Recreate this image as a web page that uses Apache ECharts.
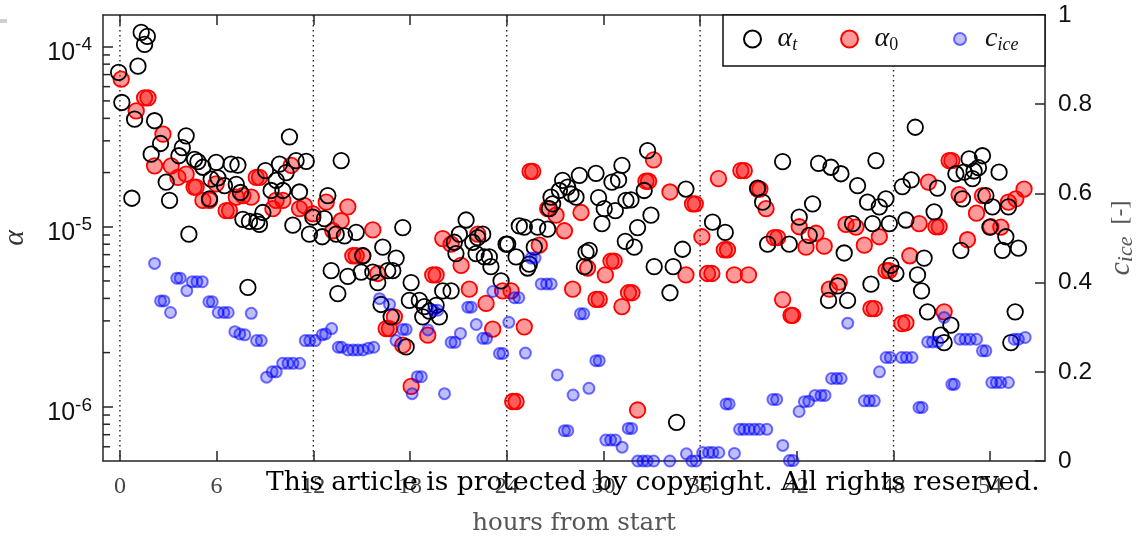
<!DOCTYPE html>
<html><head><meta charset="utf-8">
<script src="https://cdn.jsdelivr.net/npm/echarts@6/dist/echarts.min.js"></script>
<style>html,body{margin:0;padding:0;background:#fff}#c{width:1136px;height:538px}</style>
</head><body><div id="c"></div>
<script>
// ---- data ----
const hoursT = [-0.08,0.12,0.74,0.91,1.12,1.32,1.53,1.70,1.94,2.15,2.52,2.87,3.08,3.66,3.87,4.11,4.28,4.63,4.84,5.15,5.56,5.66,5.97,6.08,6.49,6.90,7.22,7.32,7.48,7.63,7.94,8.04,8.50,8.66,8.87,9.03,9.38,9.70,9.90,10.11,10.31,10.52,10.73,10.93,11.14,11.56,11.76,11.97,12.55,12.69,12.90,13.11,13.42,13.52,13.73,13.93,14.14,14.66,14.97,15.07,15.69,16.00,16.20,16.31,16.62,16.83,16.93,17.14,17.55,17.76,17.96,18.07,18.58,18.79,18.89,19.20,19.62,19.82,20.03,20.55,20.75,20.85,21.06,21.48,21.89,22.10,22.20,22.51,22.61,22.92,23.02,23.65,23.96,24.06,24.58,24.78,25.09,25.30,25.40,25.71,25.92,26.54,26.65,26.75,26.85,27.27,27.47,27.78,27.99,28.30,28.51,28.82,28.92,29.12,29.54,29.70,29.91,30.05,30.53,30.74,30.94,31.15,31.36,31.40,31.71,31.91,32.12,32.53,32.74,32.95,33.15,34.13,34.33,34.54,34.91,35.12,36.77,37.56,39.57,39.88,40.19,41.12,41.53,42.15,42.77,42.98,43.35,43.97,44.12,44.53,44.74,44.94,45.15,45.46,45.77,46.39,46.60,46.70,46.91,47.12,47.53,47.74,47.84,48.15,48.55,48.77,49.10,49.35,49.49,49.74,49.90,50.11,50.52,50.73,50.94,51.14,51.56,51.87,52.18,52.28,52.38,52.69,52.90,53.00,53.27,53.52,53.73,53.98,54.14,54.55,54.76,54.97,55.13,55.28,55.55,55.75];
const alphaT = [7.2e-5,4.9e-5,1.44e-5,3.96e-5,7.8e-5,1.2e-4,1.03e-4,1.14e-4,2.53e-5,3.88e-5,
2.9e-5,1.77e-5,1.4e-5,2.48e-5,2.75e-5,3.2e-5,9.1e-6,2.37e-5,2.3e-5,2.14e-5,
1.43e-5,1.84e-5,2.28e-5,1.87e-5,1.69e-5,2.23e-5,1.72e-5,2.2e-5,1.55e-5,1.1e-5,
4.6e-6,1.07e-5,1.07e-5,1.03e-5,1.2e-5,2.05e-5,1.59e-5,1.81e-5,2.23e-5,1.59e-5,
2.0e-5,3.16e-5,1.02e-5,2.33e-5,1.56e-5,2.31e-5,9.1e-6,1.13e-5,8.8e-6,1.11e-5,
1.49e-5,5.7e-6,9.1e-6,4.25e-6,2.33e-5,8.9e-6,5.3e-6,9.3e-6,5.6e-6,6.9e-6,
5.6e-6,4.9e-6,3.7e-6,7.7e-6,5.7e-6,3.16e-6,5.7e-6,6.7e-6,9.9e-6,2.15e-6,
3.9e-6,4.9e-6,3.9e-6,3.16e-6,3.6e-6,3.4e-6,3.66e-6,3.16e-6,4.4e-6,4.4e-6,
8.2e-6,7.1e-6,9.1e-6,1.09e-5,8.2e-6,7.1e-6,8.7e-6,9.1e-6,6.8e-6,6.8e-6,
6.0e-6,5.0e-6,8.0e-6,8.0e-6,6.8e-6,1.01e-5,9.96e-6,5.9e-6,6.2e-6,7.7e-6,
9.96e-6,9.7e-6,1.26e-5,1.46e-5,1.34e-5,1.59e-5,1.81e-5,1.66e-5,1.52e-5,1.46e-5,
1.93e-5,6.0e-6,7.2e-6,7.4e-6,1.98e-5,1.45e-5,1.04e-5,1.26e-5,1.77e-5,1.23e-5,
1.82e-5,2.19e-5,8.3e-6,1.4e-5,1.41e-5,7.7e-6,9.9e-6,1.59e-5,2.65e-5,1.16e-5,
6.0e-6,4.3e-6,6.0e-6,8.2e-7,7.5e-6,1.62e-5,1.06e-5,9.3e-6,1.64e-5,1.37e-5,
8.0e-6,2.3e-5,8.0e-6,1.13e-5,8.96e-6,1.34e-5,2.25e-5,3.9e-6,2.14e-5,4.7e-6,
1.97e-5,7.15e-6,3.9e-6,1.04e-5,1.69e-5,1.37e-5,4.8e-6,1.04e-5,2.33e-5,1.29e-5,
1.43e-5,1.04e-5,6.1e-6,5.5e-6,1.67e-5,1.09e-5,1.82e-5,3.57e-5,5.4e-6,4.4e-6,
6.7e-6,3.37e-6,1.21e-5,1.64e-5,2.5e-6,2.27e-6,2.84e-6,1.97e-5,7.4e-6,1.43e-5,
2.01e-5,2.38e-5,1.85e-5,2.04e-5,2.13e-5,2.48e-5,1.49e-5,9.96e-6,1.29e-5,2.01e-5,
7.4e-6,8.8e-6,1.29e-5,2.27e-6,3.37e-6,7.6e-6];

const hours0 = [0.08,1.01,1.53,1.74,2.15,2.67,3.18,3.60,4.11,4.60,4.73,5.15,5.56,5.97,6.59,6.80,7.22,7.63,8.15,8.46,8.66,9.49,9.69,10.11,10.63,11.14,11.45,11.97,12.80,13.21,13.73,14.14,14.45,14.66,15.07,15.69,16.00,16.52,16.72,17.03,17.55,18.07,19.10,19.41,19.62,20.03,20.55,21.17,21.68,22.20,22.72,23.13,23.75,24.27,24.37,24.58,25.09,25.45,25.61,26.02,26.54,27.06,27.58,28.09,28.61,29.02,29.54,29.74,30.12,30.47,30.67,31.15,31.56,31.77,32.12,32.64,32.80,33.11,34.13,35.12,35.53,35.70,36.11,36.46,36.73,37.14,37.50,37.70,38.12,38.53,38.74,39.00,39.57,39.71,40.09,40.60,40.81,41.12,41.64,41.74,42.15,42.57,43.19,43.70,44.02,44.63,45.05,45.67,46.19,46.60,46.81,47.12,47.53,47.74,48.52,48.77,49.01,49.59,50.17,50.63,50.83,51.14,51.45,51.62,52.07,52.59,53.15,53.52,54.04,54.66,55.13,55.59,56.10];
const alpha0 = [6.6e-5,4.4e-5,5.2e-5,5.2e-5,2.18e-5,3.27e-5,2.18e-5,1.88e-5,1.96e-5,1.66e-5,
1.66e-5,1.4e-5,1.4e-5,1.73e-5,1.23e-5,1.23e-5,1.46e-5,1.49e-5,1.46e-5,1.88e-5,
1.88e-5,1.26e-5,1.4e-5,1.4e-5,2.19e-5,1.26e-5,1.31e-5,1.18e-5,1.37e-5,9.5e-6,
1.08e-5,1.29e-5,6.9e-6,6.9e-6,6.9e-6,9.6e-6,5.5e-6,2.72e-6,2.72e-6,3.16e-6,
2.2e-6,1.3e-6,2.5e-6,5.4e-6,5.4e-6,8.6e-6,8.0e-6,6.1e-6,4.5e-6,9.1e-6,
3.75e-6,2.7e-6,4.4e-6,4.4e-6,1.07e-6,1.07e-6,2.78e-6,2.03e-5,2.03e-5,7.9e-6,
1.26e-5,1.16e-5,9.5e-6,4.5e-6,1.2e-5,5.9e-6,3.95e-6,3.95e-6,5.4e-6,6.45e-6,
6.45e-6,3.6e-6,4.3e-6,4.3e-6,9.6e-7,1.79e-5,1.79e-5,2.35e-5,1.56e-5,5.4e-6,
1.34e-5,1.34e-5,8.8e-6,5.5e-6,5.5e-6,1.85e-5,7.45e-6,7.45e-6,5.4e-6,2.05e-5,
2.05e-5,5.4e-6,1.62e-5,1.62e-5,1.26e-5,8.7e-6,8.7e-6,3.94e-6,3.22e-6,3.22e-6,
1.0e-5,7.7e-6,9.2e-6,7.8e-6,4.5e-6,4.93e-6,1.03e-5,9.96e-6,7.9e-6,3.51e-6,
3.51e-6,8.8e-6,5.7e-6,5.7e-6,2.9e-6,2.93e-6,6.9e-6,1.04e-5,1.77e-5,1.0e-5,
1.0e-5,3.37e-6,2.33e-5,2.33e-5,1.51e-5,8.47e-6,1.19e-5,1.49e-5,1.0e-5,9.96e-6,
1.37e-5,1.43e-5,1.62e-5];

const hoursIce = [2.15,2.52,2.73,3.14,3.53,3.74,4.15,4.49,4.78,5.11,5.52,5.73,6.10,6.45,6.72,7.13,7.44,7.75,8.15,8.48,8.77,9.10,9.45,9.70,10.10,10.43,10.74,11.15,11.50,11.78,12.12,12.55,12.76,13.14,13.55,13.75,14.15,14.47,14.76,15.08,15.42,15.75,16.11,16.73,17.13,17.55,17.76,18.13,18.45,18.70,19.11,19.45,19.72,20.14,20.55,20.79,21.13,21.59,21.80,22.11,22.52,22.75,23.14,23.55,23.76,24.13,24.48,24.75,25.16,25.51,25.76,26.14,26.47,26.76,27.14,27.58,27.79,28.12,28.57,28.78,29.10,29.53,29.74,30.15,30.45,30.74,31.16,31.54,31.75,32.13,32.45,32.72,33.12,34.12,35.15,35.49,35.75,36.16,36.53,36.79,37.16,37.61,37.80,38.13,38.45,38.72,39.05,39.37,39.68,40.14,40.52,40.75,41.13,41.54,41.77,42.14,42.47,42.74,43.13,43.50,43.75,44.16,44.47,44.75,45.16,46.19,46.50,46.81,47.13,47.54,47.80,48.50,48.80,49.15,49.58,49.77,50.12,50.42,50.75,51.14,51.62,51.77,52.12,52.45,52.76,53.15,53.52,53.73,54.10,54.38,54.66,55.13,55.49,55.75,56.17];
const cIce = [0.443,0.359,0.359,0.333,0.41,0.41,0.382,0.402,0.402,0.402,
0.357,0.357,0.333,0.333,0.333,0.29,0.285,0.283,0.331,0.27,
0.27,0.188,0.2,0.2,0.219,0.219,0.219,0.219,0.27,0.27,
0.27,0.283,0.285,0.297,0.255,0.255,0.249,0.249,0.249,0.249,
0.253,0.255,0.364,0.351,0.27,0.295,0.295,0.151,0.189,0.189,
0.294,0.338,0.338,0.151,0.266,0.266,0.286,0.345,0.345,0.306,
0.275,0.275,0.38,0.241,0.241,0.311,0.366,0.366,0.242,0.455,
0.455,0.397,0.397,0.397,0.193,0.068,0.068,0.148,0.33,0.33,
0.163,0.225,0.225,0.047,0.047,0.047,0.031,0.073,0.073,0,
0,0,0,0,0.016,0,0,0.019,0.019,0.019,
0.019,0.128,0.128,0.017,0.071,0.071,0.071,0.071,0.071,0.071,
0.138,0.138,0.035,0.001,0.001,0.111,0.133,0.134,0.147,0.147,
0.147,0.185,0.185,0.185,0.309,0.135,0.135,0.135,0.2,0.232,
0.232,0.232,0.232,0.232,0.12,0.12,0.267,0.267,0.267,0.322,
0.172,0.172,0.273,0.273,0.273,0.273,0.247,0.247,0.176,0.176,
0.176,0.176,0.273,0.273,0.277];

// ---- axes / ticks ----
const xTickValues = [0,6,12,18,24,30,36,42,48,54];
const dayLines = [0,12,24,36,48];
const alphaMinorTicks = [6e-7,7e-7,8e-7,9e-7,2e-6,3e-6,4e-6,5e-6,6e-6,7e-6,8e-6,9e-6,2e-5,3e-5,4e-5,5e-5,6e-5,7e-5,8e-5,9e-5];
const X_MIN = -1.05, X_MAX = 57.4;
const A_MIN = 5e-7, A_MAX = 1.5e-4;
const C_MIN = 0, C_MAX = 1, C_STEP = 0.2;

const frame = '#262626';
const zip = (xs, ys) => xs.map((x, i) => [x, ys[i]]);

const legendRich = {
  m: {fontFamily: 'Liberation Serif', fontStyle: 'italic', fontSize: 28, lineHeight: 30, color: '#111'},
  s: {fontFamily: 'Liberation Serif', fontStyle: 'italic', fontSize: 18, lineHeight: 14, verticalAlign: 'bottom', color: '#111'},
  d: {fontFamily: 'Liberation Serif', fontSize: 18, lineHeight: 14, verticalAlign: 'bottom', color: '#111'}
};
function legendCfg(name, left, h, txt) {
  return {
    data: [name], left: left, top: 25, padding: 0, itemWidth: 40, itemHeight: h,
    selectedMode: false, formatter: () => txt, textStyle: {rich: legendRich}
  };
}

const chart = echarts.init(document.getElementById('c'), null, {renderer: 'canvas'});
chart.setOption({
  animation: false,
  backgroundColor: '#fff',
  grid: {left: 103, right: 91, top: 15, bottom: 77, outerBoundsMode: 'none'},
  xAxis: [{
    type: 'value', min: X_MIN, max: X_MAX, position: 'bottom',
    name: 'hours from start', nameLocation: 'middle', nameGap: 50,
    nameTextStyle: {fontFamily: 'DejaVu Serif', fontSize: 24.5, color: '#555'},
    axisLine: {show: true, onZero: false, lineStyle: {color: frame, width: 1.5}},
    axisTick: {show: true, inside: true, length: 10, customValues: xTickValues, lineStyle: {color: frame, width: 1.5}},
    axisLabel: {customValues: xTickValues, margin: 14, fontFamily: 'Liberation Serif', fontSize: 24, color: '#444'},
    splitLine: {show: false}
  }, {
    type: 'value', min: X_MIN, max: X_MAX, position: 'top',
    axisLine: {show: true, onZero: false, lineStyle: {color: frame, width: 1.5}},
    axisTick: {show: true, inside: true, length: 10, customValues: xTickValues, lineStyle: {color: frame, width: 1.5}},
    axisLabel: {show: false}, splitLine: {show: false}
  }],
  yAxis: [{
    type: 'log', logBase: 10, min: A_MIN, max: A_MAX, position: 'left',
    name: 'α', nameLocation: 'middle', nameGap: 73, nameRotate: 90,
    nameTextStyle: {fontFamily: 'Liberation Serif', fontStyle: 'italic', fontSize: 30, color: '#333'},
    axisLine: {show: true, onZero: false, lineStyle: {color: frame, width: 1.5}},
    axisTick: {show: true, inside: true, length: 10, lineStyle: {color: frame, width: 1.5}},
    axisLabel: {
      showMinLabel: false, showMaxLabel: false, margin: 11, padding: [12, 0, 0, 0],
      formatter: v => { const e = Math.log10(v), r = Math.round(e); return Math.abs(e - r) > 1e-6 ? '' : '{b|10}{s|' + r + '}'; },
      rich: {
        b: {fontFamily: 'Liberation Sans', fontSize: 25, lineHeight: 34, color: '#111'},
        s: {fontFamily: 'Liberation Sans', fontSize: 19, lineHeight: 18, verticalAlign: 'top', color: '#111'}
      }
    },
    splitLine: {show: false}
  }, {
    type: 'value', min: C_MIN, max: C_MAX, interval: C_STEP, position: 'right',
    name: '{m|c}{s|ice}{n|  [-]}', nameLocation: 'middle', nameGap: 60, nameRotate: 90,
    nameTextStyle: {rich: {
      m: {fontFamily: 'Liberation Serif', fontStyle: 'italic', fontSize: 30, lineHeight: 32, color: '#555'},
      s: {fontFamily: 'Liberation Serif', fontStyle: 'italic', fontSize: 22, lineHeight: 16, verticalAlign: 'bottom', color: '#555'},
      n: {fontFamily: 'Liberation Serif', fontSize: 24, lineHeight: 32, color: '#555'}
    }},
    axisLine: {show: true, onZero: false, lineStyle: {color: frame, width: 1.5}},
    axisTick: {show: true, inside: true, length: 10, lineStyle: {color: frame, width: 1.5}},
    axisLabel: {margin: 13, fontFamily: 'Liberation Sans', fontSize: 24.5, color: '#111'},
    splitLine: {show: false}
  }],
  legend: [
    legendCfg('αt', 743, 17, '{m|α}{s|t}'),
    legendCfg('α0', 840, 17, '{m|α}{d|0}'),
    legendCfg('cice', 953, 12, '{m|c}{s|ice}')
  ],
  graphic: [
    {type: 'rect', z: 3, shape: {x: 723, y: 15, width: 322, height: 51}, style: {fill: '#fff', stroke: '#111', lineWidth: 1.5}},
    {type: 'rect', z: 3, shape: {x: 0, y: 19, width: 7, height: 4}, style: {fill: '#cfcfcf'}},
    {type: 'text', z: 10, x: 266, y: 483, style: {text: 'This article is protected by copyright. All rights reserved.', font: '26.5px "DejaVu Serif"', fill: '#000', verticalAlign: 'middle'}}
  ],
  series: [
    {
      type: 'custom', name: 'dayLines', silent: true, z: 1, clip: false,
      data: dayLines.map(v => [v, 1e-5]),
      renderItem: (params, api) => {
        const cs = params.coordSys; const x = api.coord([api.value(0), 1e-5])[0];
        return {type: 'line', shape: {x1: x, y1: cs.y, x2: x, y2: cs.y + cs.height}, style: {stroke: '#222', lineWidth: 1.4, lineDash: [1.5, 3.5]}};
      }
    },
    {
      type: 'custom', name: 'minorTicks', silent: true, z: 1, clip: false,
      data: alphaMinorTicks.map(v => [0, v]),
      renderItem: (params, api) => {
        const cs = params.coordSys; const y = api.coord([0, api.value(1)])[1];
        return {type: 'line', shape: {x1: cs.x, y1: y, x2: cs.x + 7, y2: y}, style: {stroke: frame, lineWidth: 1.5}};
      }
    },
    {
      type: 'scatter', name: 'α0', data: zip(hours0, alpha0), symbol: 'circle', symbolSize: 15.5,
      itemStyle: {color: 'rgba(255,0,0,0.4)', borderColor: '#ff0000', borderWidth: 1.8, opacity: 1},
      emphasis: {disabled: true}
    },
    {
      type: 'scatter', name: 'αt', data: zip(hoursT, alphaT), symbol: 'circle', symbolSize: 15.5,
      itemStyle: {color: 'rgba(0,0,0,0)', borderColor: '#000', borderWidth: 1.8, opacity: 1},
      emphasis: {disabled: true}
    },
    {
      type: 'scatter', name: 'cice', yAxisIndex: 1, data: zip(hoursIce, cIce), symbol: 'circle', symbolSize: 11,
      itemStyle: {color: 'rgba(0,0,255,0.25)', borderColor: 'rgba(0,0,255,0.55)', borderWidth: 2, opacity: 1},
      emphasis: {disabled: true}
    }
  ]
});
</script></body></html>
